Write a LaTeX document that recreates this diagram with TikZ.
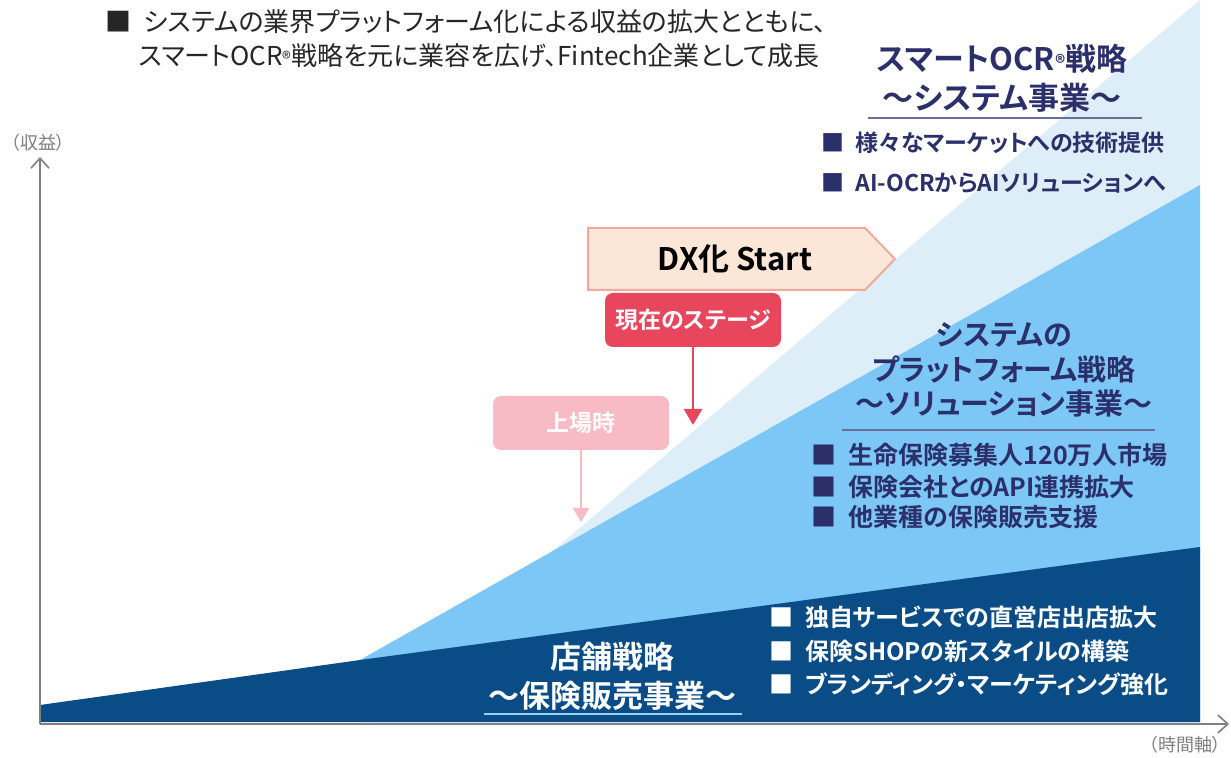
\documentclass[tikz,border=0pt]{standalone}
\usepackage{fontspec}
\setmainfont{Noto Sans CJK JP}[BoldFont={* Bold},RawFeature={+palt}]
\usetikzlibrary{arrows.meta}
\definecolor{navy}{HTML}{0A4C86}
\definecolor{skyblue}{HTML}{7CC7F6}
\definecolor{paleblue}{HTML}{DDEEF9}
\definecolor{titleblue}{HTML}{2B306B}
\definecolor{peach}{HTML}{FCE6D7}
\definecolor{peachline}{HTML}{EFA99F}
\definecolor{nowred}{HTML}{E8465C}
\definecolor{ipopink}{HTML}{F8BBC5}
\definecolor{axisgray}{HTML}{7F7F7F}
\newcommand{\fs}[1]{\fontsize{#1}{1.2\dimexpr#1\relax}\selectfont}

\begin{document}
\begin{tikzpicture}[x=0.5pt,y=-0.5pt,
  axis/.style={draw=axisgray,line width=0.8pt,-{Straight Barb[length=5pt,width=9pt]}},
  axislabel/.style={text=axisgray,font=\fs{9pt}},
  stagebox/.style={rounded corners=4pt,minimum width=88pt,minimum height=27pt,text=white,font=\bfseries\fs{11.5pt}},
  title/.style={align=center,font=\bfseries\fs{15.5pt}},
  item/.style={anchor=west,font=\bfseries\fs{11.5pt}}]
\useasboundingbox (0,0) rectangle (1231,758);

\newcommand{\ocritems}{143/様々なマーケットへの技術提供, 183/AI-OCRからAIソリューションへ}
\newcommand{\pfitems}{455/生命保険募集人120万人市場, 487/保険会社とのAPI連携拡大, 517/他業種の保険販売支援}
\newcommand{\shopitems}{617/独自サービスでの直営店出店拡大, 651/保険SHOPの新スタイルの構築, 684/ブランディング・マーケティング強化}

% areas
\fill[paleblue] (548,555) -- (1200,0) -- (1200,185) -- cycle;
\fill[skyblue] (360,660) -- (1200,185) -- (1200,722) -- (360,722) -- cycle;
\fill[navy] (40,705) -- (360,660) -- (1200,547) -- (1200,722) -- (40,722) -- cycle;

% axes
\coordinate (origin) at (40,724);
\coordinate (ytop) at (40,157);
\coordinate (xend) at (1229,724);
\draw[axis] (origin) -- (ytop);
\draw[axis] (origin) -- (xend);
\node[axislabel] (ylab) at (38,143) {（収益）};
\node[axislabel] (xlab) at (1185,745) {（時間軸）};

% headline
\node[anchor=west,font=\fs{13pt},text=black!85] (head1) at (98,22) {■\enspace システムの業界プラットフォーム化による収益の拡大とともに、};
\node[anchor=west,font=\fs{13pt},text=black!85] (head2) at (132,56) {スマートOCR{\fs{9pt}®}戦略を元に業容を広げ、Fintech企業として成長};

% system business
\node[title,text=titleblue] (ocrtitle) at (1002,78) {スマートOCR{\fs{10pt}®}戦略\\[1pt]〜システム事業〜};
\draw[titleblue!70,line width=0.6pt] (868,118) -- (1142,118);
\foreach \y / \t [count=\i] in \ocritems
  \node[item,text=titleblue] (ocr\i) at (814,\y) {■\enspace\t};

% solution business
\node[title,text=titleblue,font=\bfseries\fs{14.5pt}] (pftitle) at (1004,370) {システムの\\[0pt]プラットフォーム戦略\\[0pt]〜ソリューション事業〜};
\draw[titleblue!70,line width=0.6pt] (842,430) -- (1155,430);
\foreach \y / \t [count=\i] in \pfitems
  \node[item,text=titleblue,font=\bfseries\fs{12.5pt}] (pf\i) at (804,\y) {■\enspace\t};

% shop business
\node[title,text=white,font=\bfseries\fs{15.5pt}] (shoptitle) at (612,676) {店舗戦略\\[1pt]〜保険販売事業〜};
\draw[skyblue!80!white,line width=0.8pt] (484,714) -- (742,714);
\foreach \y / \t [count=\i] in \shopitems
  \node[item,text=white,font=\bfseries\fs{12pt}] (shop\i) at (762,\y) {■\enspace\t};

% stages
\draw[fill=peach,draw=peachline,line width=1pt] (588,228) -- (865,228) -- (895,259) -- (865,290) -- (588,290) -- cycle;
\node[font=\bfseries\fs{15.5pt}] (dx) at (735,259) {DX化 Start};
\node[stagebox,fill=nowred] (now) at (693,320) {現在のステージ};
\node[stagebox,fill=ipopink] (ipo) at (581,423) {上場時};
\coordinate (nowtip) at (693,425);
\coordinate (ipotip) at (581,522);
\draw[nowred,line width=1.2pt,-{Triangle[length=8pt,width=9pt]}] (now) -- (nowtip);
\draw[ipopink,line width=1pt,-{Triangle[length=7pt,width=8pt]}] (ipo) -- (ipotip);
\end{tikzpicture}
\end{document}
